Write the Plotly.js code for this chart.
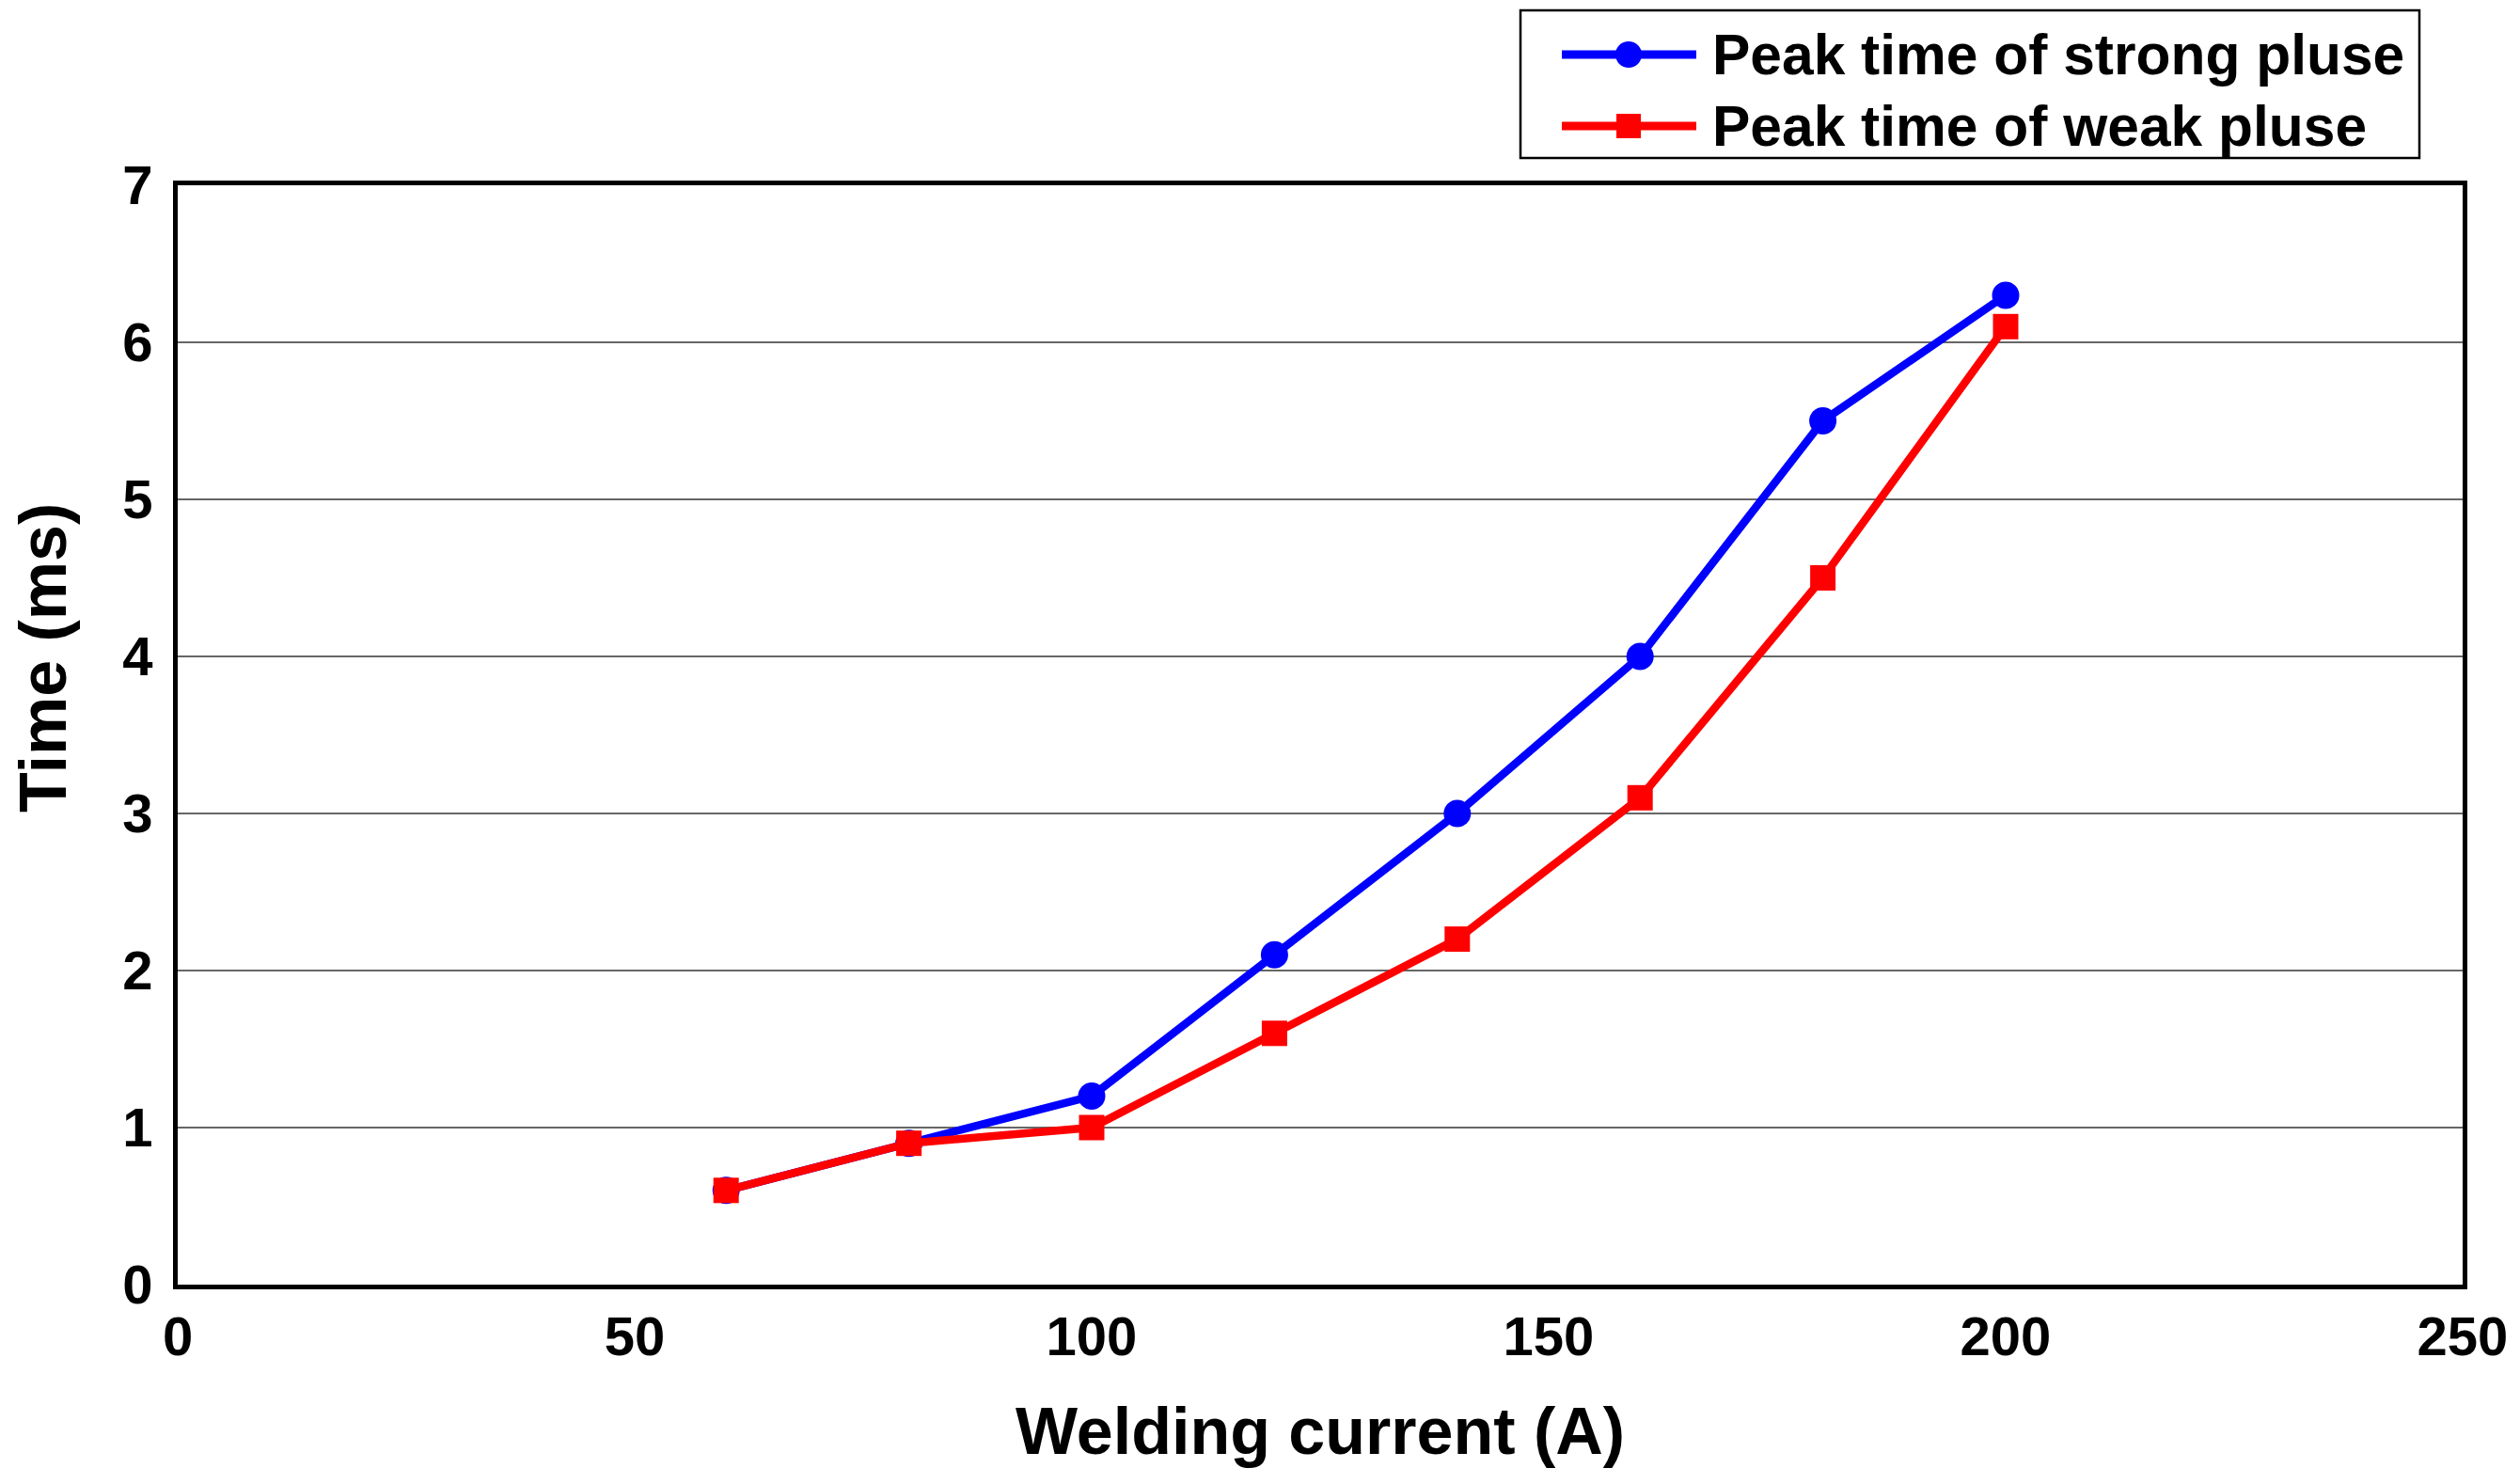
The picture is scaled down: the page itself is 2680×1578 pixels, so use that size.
<!DOCTYPE html>
<html>
<head>
<meta charset="utf-8">
<script src="https://cdn.plot.ly/plotly-3.0.1.min.js"></script>
<style>html,body{margin:0;padding:0;background:#fff;}#chart{width:2680px;height:1578px;}</style>
</head>
<body>
<div id="chart"></div>
<script>
// Data
const weldingCurrent = [60, 80, 100, 120, 140, 160, 180, 200];
const strongPeakTime = [0.6, 0.9, 1.2, 2.1, 3.0, 4.0, 5.5, 6.3];
const weakPeakTime   = [0.6, 0.9, 1.0, 1.6, 2.2, 3.1, 4.5, 6.1];
const seriesNames = ["Peak time of strong pluse", "Peak time of weak pluse"];
const xTitle = "Welding current (A)";
const yTitle = "Time (ms)";
const xTickVals = [0, 50, 100, 150, 200, 250];
const yTickVals = [0, 1, 2, 3, 4, 5, 6, 7];

const FONT = "Liberation Sans, Arial, Helvetica, sans-serif";
const W = 2680, H = 1578;
const L = 189, R = 61, T = 197, B = 212;
const PW = W - L - R, PH = H - T - B;
const px = v => (v - L) / PW;          // pixel x -> paper x
const py = v => (H - B - v) / PH;      // pixel y -> paper y

const traces = [
  {
    x: weldingCurrent, y: strongPeakTime, name: seriesNames[0],
    type: "scatter", mode: "lines+markers",
    line: {color: "#0000FF", width: 8.5},
    marker: {symbol: "circle", size: 29, color: "#0000FF"}
  },
  {
    x: weldingCurrent, y: weakPeakTime, name: seriesNames[1],
    type: "scatter", mode: "lines+markers",
    line: {color: "#FF0000", width: 8.5},
    marker: {symbol: "square", size: 27, color: "#FF0000"}
  }
];

// Legend (drawn as a box with sample line + marker and text)
const legRows = [
  {y: 58, color: "#0000FF", shape: "circle", r: 14, text: seriesNames[0]},
  {y: 134, color: "#FF0000", shape: "rect", r: 13, text: seriesNames[1]}
];
const shapes = [
  {type: "rect", xref: "paper", yref: "paper",
   x0: px(1617), x1: px(2573), y0: py(168), y1: py(11),
   line: {color: "#000", width: 2.5}, fillcolor: "rgba(0,0,0,0)"},
  // slightly heavier bottom frame edge
  {type: "line", xref: "paper", yref: "paper", x0: 0, x1: 1,
   ysizemode: "pixel", yanchor: 0, y0: -2, y1: -2,
   line: {color: "#000", width: 4}}
];
const annotations = [];
legRows.forEach(r => {
  shapes.push({type: "line", xref: "paper", yref: "paper",
    x0: px(1661), x1: px(1804), y0: py(r.y), y1: py(r.y),
    line: {color: r.color, width: 9}});
  shapes.push({type: r.shape, xref: "paper", yref: "paper",
    xsizemode: "pixel", ysizemode: "pixel",
    xanchor: px(1732), yanchor: py(r.y),
    x0: -r.r, x1: r.r, y0: -r.r, y1: r.r,
    fillcolor: r.color, line: {width: 0}});
  annotations.push({xref: "paper", yref: "paper", x: px(1819), y: py(r.y),
    xanchor: "left", yanchor: "middle", showarrow: false, text: r.text,
    font: {family: FONT, size: 60.5, color: "#000", weight: "bold"}});
});
// axis titles
annotations.push({xref: "paper", yref: "paper", x: px(46), y: py(700),
  xanchor: "center", yanchor: "middle", showarrow: false, textangle: -90,
  text: yTitle, font: {family: FONT, size: 70, color: "#000", weight: "bold"}});
annotations.push({xref: "paper", yref: "paper", x: 0.5, y: py(1522),
  xanchor: "center", yanchor: "middle", showarrow: false,
  text: xTitle, font: {family: FONT, size: 70, color: "#000", weight: "bold"}});

const layout = {
  width: W, height: H,
  margin: {l: L, r: R, t: T, b: B, pad: 0},
  paper_bgcolor: "#fff", plot_bgcolor: "#fff",
  showlegend: false,
  font: {family: FONT, color: "#000", weight: "bold"},
  xaxis: {
    range: [0, 250], tickvals: xTickVals, ticktext: xTickVals.map(String),
    showgrid: false, zeroline: false, ticks: "",
    showline: true, mirror: true, linecolor: "#000", linewidth: 5,
    tickfont: {family: FONT, size: 58, color: "#000", weight: "bold"},
    ticklabelstandoff: 0
  },
  yaxis: {
    range: [0, 7], tickvals: yTickVals, ticktext: yTickVals.map(String),
    showgrid: true, gridcolor: "#666666", gridwidth: 2.5,
    zeroline: false, ticks: "",
    showline: true, mirror: true, linecolor: "#000", linewidth: 5,
    tickfont: {family: FONT, size: 58, color: "#000", weight: "bold"},
    ticklabelstandoff: 10
  },
  shapes: shapes,
  annotations: annotations
};

Plotly.newPlot("chart", traces, layout, {displayModeBar: false, staticPlot: true});
</script>
</body>
</html>
